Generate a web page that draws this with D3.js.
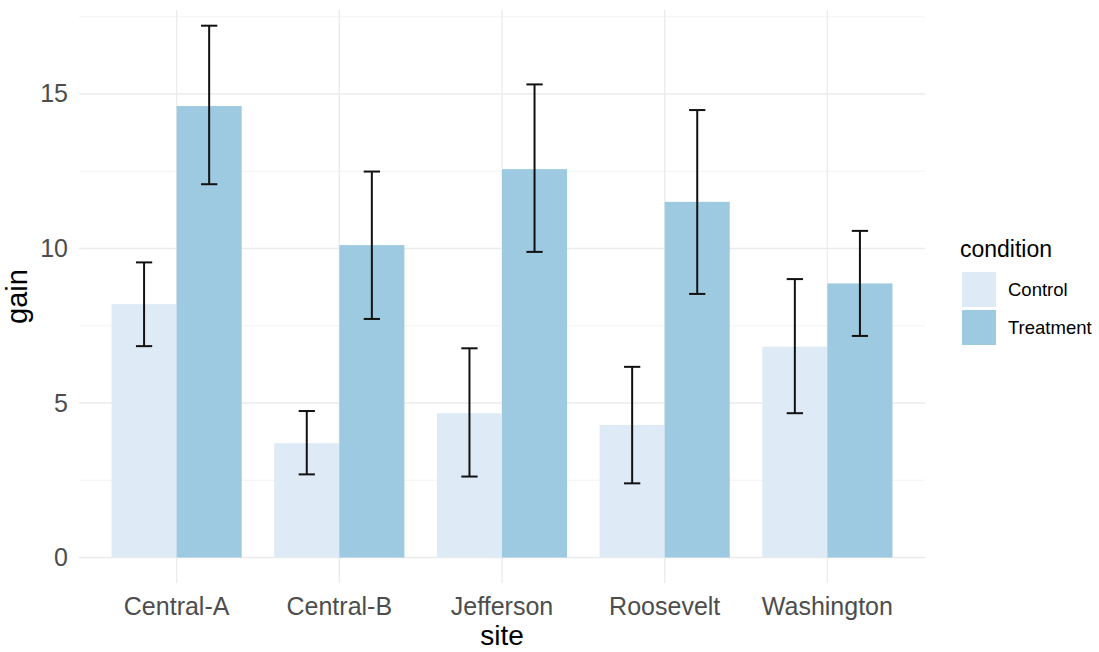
<!DOCTYPE html>
<html>
<head>
<meta charset="utf-8">
<script src="https://cdn.jsdelivr.net/npm/d3@7"></script>
<style>
  body { margin: 0; background: #fff; }
  svg { display: block; font-family: "Liberation Sans", Arial, Helvetica, sans-serif; }
</style>
</head>
<body>
<svg id="chart" width="1099" height="652"></svg>
<script>
const sites = ["Central-A", "Central-B", "Jefferson", "Roosevelt", "Washington"];
const conditions = ["Control", "Treatment"];
const controlGain = [8.20, 3.70, 4.67, 4.29, 6.82];
const controlLow  = [6.84, 2.69, 2.62, 2.40, 4.67];
const controlHigh = [9.55, 4.74, 6.77, 6.17, 9.01];
const treatmentGain = [14.61, 10.11, 12.57, 11.51, 8.87];
const treatmentLow  = [12.08, 7.72, 9.89, 8.53, 7.17];
const treatmentHigh = [17.21, 12.49, 15.31, 14.48, 10.57];
const yMajorTicks = [0, 5, 10, 15];
const yMinorTicks = [2.5, 7.5, 12.5, 17.5];
const colors = ["#deebf7", "#9ecae1"];

const rows = [];
sites.forEach((s, i) => {
  rows.push({site: s, condition: "Control", gain: controlGain[i], lo: controlLow[i], hi: controlHigh[i]});
  rows.push({site: s, condition: "Treatment", gain: treatmentGain[i], lo: treatmentLow[i], hi: treatmentHigh[i]});
});

const svg = d3.select("#chart");
const pLeft = 79, pRight = 925, pTop = 10, pBottom = 583;

const x = d3.scaleBand().domain(sites).range([pLeft, pRight]).paddingInner(0.2).paddingOuter(0.2);
const xInner = d3.scaleBand().domain(conditions).range([0, x.bandwidth()]).padding(0);
const y = d3.scaleLinear().domain([-0.825, 17.718]).range([pBottom, pTop]);
const color = d3.scaleOrdinal().domain(conditions).range(colors);

// grid
const g = svg.append("g");
g.selectAll(".minor").data(yMinorTicks).join("line")
  .attr("x1", pLeft).attr("x2", pRight)
  .attr("y1", d => y(d)).attr("y2", d => y(d))
  .attr("stroke", "#f3f3f3").attr("stroke-width", 1);
g.selectAll(".major").data(yMajorTicks).join("line")
  .attr("x1", pLeft).attr("x2", pRight)
  .attr("y1", d => y(d)).attr("y2", d => y(d))
  .attr("stroke", "#ebebeb").attr("stroke-width", 1.3);
g.selectAll(".vmajor").data(sites).join("line")
  .attr("x1", d => x(d) + x.bandwidth() / 2).attr("x2", d => x(d) + x.bandwidth() / 2)
  .attr("y1", pTop).attr("y2", pBottom)
  .attr("stroke", "#ebebeb").attr("stroke-width", 1.3);

// bars
svg.append("g").selectAll("rect").data(rows).join("rect")
  .attr("x", d => x(d.site) + xInner(d.condition))
  .attr("width", xInner.bandwidth())
  .attr("y", d => y(d.gain))
  .attr("height", d => y(0) - y(d.gain))
  .attr("fill", d => color(d.condition));

// error bars
const capW = x.step() * 0.1;
const eb = svg.append("g").attr("stroke", "#111").attr("stroke-width", 2);
rows.forEach(d => {
  const cx = x(d.site) + xInner(d.condition) + xInner.bandwidth() / 2;
  eb.append("line").attr("x1", cx).attr("x2", cx).attr("y1", y(d.lo)).attr("y2", y(d.hi));
  eb.append("line").attr("x1", cx - capW / 2).attr("x2", cx + capW / 2).attr("y1", y(d.lo)).attr("y2", y(d.lo));
  eb.append("line").attr("x1", cx - capW / 2).attr("x2", cx + capW / 2).attr("y1", y(d.hi)).attr("y2", y(d.hi));
});

// axes
const yAxis = svg.append("g").attr("transform", `translate(${pLeft},0)`)
  .call(d3.axisLeft(y).tickValues(yMajorTicks).tickSize(0).tickPadding(11));
yAxis.select(".domain").remove();
yAxis.selectAll("text").attr("font-size", 25).attr("fill", "#4d4d4d")
  .attr("font-family", "Liberation Sans, Arial, sans-serif");

const xAxis = svg.append("g").attr("transform", `translate(0,${pBottom})`)
  .call(d3.axisBottom(x).tickSize(0).tickPadding(14));
xAxis.select(".domain").remove();
xAxis.selectAll("text").attr("font-size", 25).attr("fill", "#4d4d4d")
  .attr("font-family", "Liberation Sans, Arial, sans-serif");

// axis titles
svg.append("text").attr("x", (pLeft + pRight) / 2).attr("y", 645)
  .attr("text-anchor", "middle").attr("font-size", 28).attr("fill", "#000").text("site");
svg.append("text").attr("transform", `translate(27,${(pTop + pBottom) / 2}) rotate(-90)`)
  .attr("text-anchor", "middle").attr("font-size", 29).attr("fill", "#000").text("gain");

// legend
const lg = svg.append("g");
lg.append("text").attr("x", 960).attr("y", 257).attr("font-size", 23).attr("fill", "#000").text("condition");
conditions.forEach((c, i) => {
  lg.append("rect").attr("x", 962).attr("y", 272 + i * 38).attr("width", 34).attr("height", 35)
    .attr("fill", color(c));
  lg.append("text").attr("x", 1008).attr("y", 290 + i * 38).attr("dy", "0.35em")
    .attr("font-size", 18.5).attr("fill", "#000").text(c);
});
</script>
</body>
</html>
